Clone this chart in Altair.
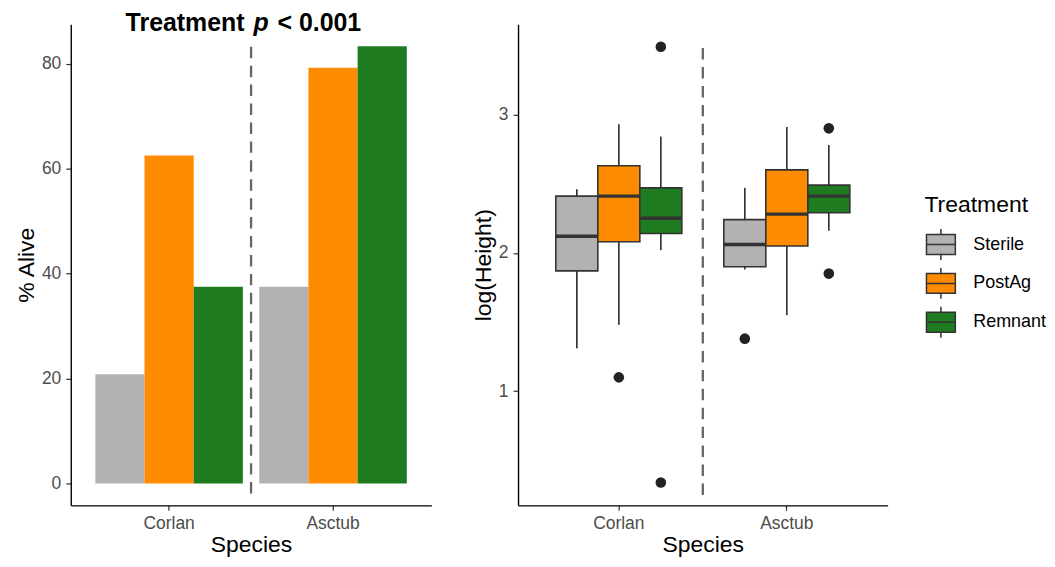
import altair as alt
import pandas as pd

FONT = "Liberation Sans"
species = ["Corlan", "Asctub"]
treatments = ["Sterile", "PostAg", "Remnant"]
colors = ["#B2B2B2", "#FF8C00", "#1F7B1F"]

# Left panel: % alive
alive_species = ["Corlan", "Corlan", "Corlan", "Asctub", "Asctub", "Asctub"]
alive_treat = ["Sterile", "PostAg", "Remnant", "Sterile", "PostAg", "Remnant"]
alive_pct = [20.8, 62.5, 37.5, 37.5, 79.2, 83.3]

# Right panel: box plot statistics of log(Height)
box_species = ["Corlan", "Corlan", "Corlan", "Asctub", "Asctub", "Asctub"]
box_treat = ["Sterile", "PostAg", "Remnant", "Sterile", "PostAg", "Remnant"]
box_lower = [1.31, 1.48, 2.02, 1.88, 1.55, 2.16]
box_q1 = [1.87, 2.08, 2.14, 1.90, 2.05, 2.29]
box_median = [2.12, 2.41, 2.25, 2.06, 2.28, 2.41]
box_q3 = [2.41, 2.63, 2.47, 2.24, 2.60, 2.49]
box_upper = [2.46, 2.93, 2.84, 2.47, 2.91, 2.78]

out_species = ["Corlan", "Corlan", "Corlan", "Asctub", "Asctub", "Asctub"]
out_treat = ["PostAg", "Remnant", "Remnant", "Sterile", "Remnant", "Remnant"]
out_value = [1.10, 3.49, 0.34, 1.38, 2.90, 1.85]

# Dashed separators
sep_species = ["Asctub"]
sep_left = [83.2, -2.5]
sep_right = [3.48, 0.24]

alive_df = pd.DataFrame({"Species": alive_species, "Treatment": alive_treat, "Alive": alive_pct})
box_df = pd.DataFrame({"Species": box_species, "Treatment": box_treat, "lower": box_lower,
                       "q1": box_q1, "median": box_median, "q3": box_q3, "upper": box_upper})
out_df = pd.DataFrame({"Species": out_species, "Treatment": out_treat, "value": out_value})
sepL_df = pd.DataFrame({"Species": sep_species, "top": [sep_left[0]], "bottom": [sep_left[1]]})
sepR_df = pd.DataFrame({"Species": sep_species, "top": [sep_right[0]], "bottom": [sep_right[1]]})

xaxis = alt.Axis(title="Species", labelAngle=0, labelPadding=4, titlePadding=2)
xscale = alt.Scale(domain=species, paddingInner=0, paddingOuter=0.1)

def X(**kw):
    return alt.X("Species:N", scale=xscale, axis=xaxis, **kw)

fill_scale = alt.Scale(domain=treatments, range=colors)

# ---------- Left chart ----------
yL = alt.Scale(domain=[-4.17, 87.5], nice=False, zero=False)
bars = alt.Chart(alive_df).mark_bar().encode(
    x=X(),
    xOffset=alt.XOffset("Treatment:N", scale=alt.Scale(domain=treatments, paddingInner=0, paddingOuter=1/6)),
    y=alt.Y("Alive:Q", scale=yL, axis=alt.Axis(title="% Alive", values=[0, 20, 40, 60, 80], format="d")),
    y2=alt.datum(0),
    fill=alt.Fill("Treatment:N", scale=fill_scale, legend=None),
)
sepL = alt.Chart(sepL_df).mark_rule(color="#666666", strokeWidth=2.3, strokeDash=[11.5, 7.5]).encode(
    x=X(bandPosition=0), y=alt.Y("top:Q", scale=yL), y2="bottom:Q"
)

def ttl(txt, x, align, italic=False):
    return alt.Chart(pd.DataFrame({"t": [txt]})).mark_text(
        font=FONT, fontSize=25, fontWeight="bold", fontStyle="italic" if italic else "normal",
        align=align, baseline="alphabetic", color="black"
    ).encode(text="t:N", x=alt.value(x), y=alt.value(7.3))

left = alt.layer(bars, sepL, ttl("Treatment", 174.5, "right"), ttl("p", 191, "center", True),
                 ttl("< 0.001", 207.5, "left")).properties(width=362, height=483)

# ---------- Right chart ----------
yR = alt.Scale(domain=[0.175, 3.653], nice=False, zero=False)
xoffR = alt.XOffset("Treatment:N", scale=alt.Scale(domain=treatments, paddingInner=0, paddingOuter=0.5))
symbol_path = ("M-0.935,-0.645L0.935,-0.645L0.935,0.645L-0.935,0.645Z"
               "M-0.935,0L0.935,0M0,-0.645L0,-1M0,0.645L0,1")

whisk = alt.Chart(box_df).mark_rule(color="#333333", strokeWidth=1.7).encode(
    x=X(), xOffset=xoffR,
    y=alt.Y("lower:Q", scale=yR, axis=alt.Axis(title="log(Height)", values=[1, 2, 3], format="d")),
    y2="upper:Q",
)
boxes = alt.Chart(box_df).mark_bar(stroke="#333333", strokeWidth=1.6).encode(
    x=X(), xOffset=xoffR,
    y=alt.Y("q1:Q", scale=yR), y2="q3:Q",
    fill=alt.Fill("Treatment:N", scale=fill_scale, legend=alt.Legend(
        title="Treatment", orient="none", legendX=408, legendY=170.7,
        symbolType=symbol_path, symbolSize=961, symbolStrokeColor="#333333",
        symbolStrokeWidth=1.5, symbolOpacity=1, rowPadding=2, titlePadding=11,
        labelOffset=16, padding=0,
    )),
)
med = alt.Chart(box_df).mark_bar(stroke="#333333", strokeWidth=3.4, fillOpacity=0).encode(
    x=X(), xOffset=xoffR, y=alt.Y("median:Q", scale=yR), y2="median:Q"
)
outl = alt.Chart(out_df).mark_circle(size=113, color="#222222", opacity=1).encode(
    x=X(), xOffset=xoffR, y=alt.Y("value:Q", scale=yR)
)
sepR = alt.Chart(sepR_df).mark_rule(color="#666666", strokeWidth=2.3, strokeDash=[11.5, 7.5]).encode(
    x=X(bandPosition=0), y=alt.Y("top:Q", scale=yR), y2="bottom:Q"
)
right = alt.layer(whisk, boxes, med, outl, sepR).properties(width=371, height=483)

chart = alt.hconcat(left, right, spacing=41).resolve_scale(
    fill="independent", xOffset="independent"
).properties(
    padding={"left": 7, "top": 2.2, "right": 0, "bottom": 0}
).configure_view(stroke=None).configure_axis(
    grid=False, domainColor="black", domainWidth=1.4, tickColor="#333333", tickWidth=1.2,
    tickSize=5, labelFont=FONT, labelFontSize=17.5, labelColor="#4D4D4D", labelPadding=5,
    titleFont=FONT, titleFontSize=23, titleFontWeight="normal", titleColor="black", titlePadding=3,
).configure_legend(
    titleFont=FONT, titleFontSize=23, titleFontWeight="normal", titleColor="black",
    labelFont=FONT, labelFontSize=18, labelColor="black",
)

chart.save("out.html", embed_options={"renderer": "svg", "actions": False})
